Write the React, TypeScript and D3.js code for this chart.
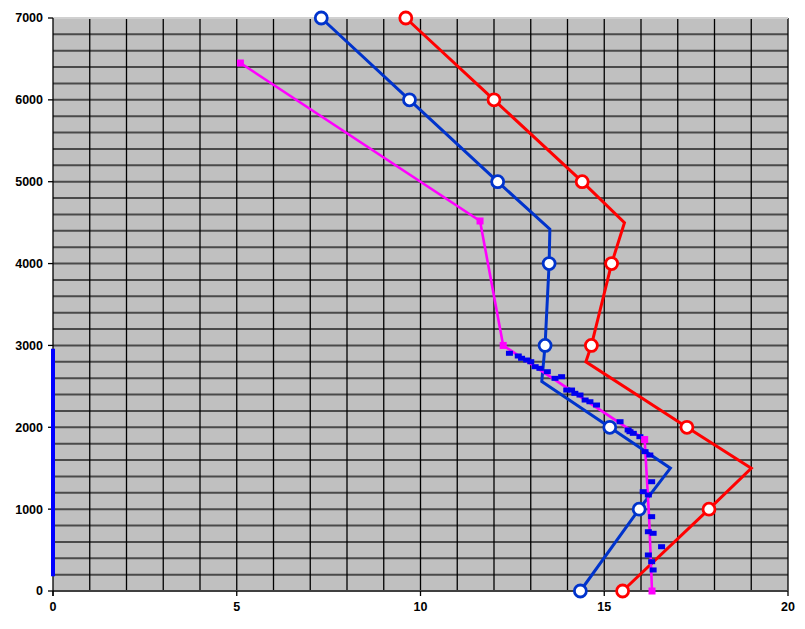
import React from "react";
import * as d3 from "d3";

const xTicks = [0, 5, 10, 15, 20];
const yTicks = [0, 1000, 2000, 3000, 4000, 5000, 6000, 7000];

const redX = [9.6, 12.0, 14.4, 15.55, 15.2, 14.65, 14.5, 17.25, 19.0, 17.85, 15.5];
const redY = [7000, 6000, 5000, 4500, 4000, 3000, 2800, 2000, 1500, 1000, 0];
const redM = [1, 1, 1, 0, 1, 1, 0, 1, 0, 1, 1];

const blueX = [7.3, 9.7, 12.1, 13.52, 13.5, 13.39, 13.3, 15.15, 16.8, 15.95, 14.35];
const blueY = [7000, 6000, 5000, 4420, 4000, 3000, 2560, 2000, 1500, 1000, 0];
const blueM = [1, 1, 1, 0, 1, 1, 0, 1, 0, 1, 1];

const magX = [5.1, 11.62, 12.25, 16.1, 16.22, 16.3];
const magY = [6450, 4520, 3000, 1850, 900, 0];

const scatX = [12.42, 12.66, 12.75, 12.89, 13.0, 13.12, 13.25, 13.45, 13.66, 13.84, 13.98, 14.11, 14.2, 14.34, 14.48, 14.61, 14.79, 15.43, 15.65, 15.79, 15.97, 15.7, 16.11, 16.24, 16.29, 16.06, 16.2, 16.29, 16.2, 16.33, 16.56, 16.2, 16.29, 16.33];
const scatY = [2904, 2871, 2843, 2822, 2801, 2740, 2720, 2679, 2598, 2618, 2455, 2455, 2415, 2394, 2333, 2312, 2272, 2068, 1967, 1926, 1885, 1946, 1702, 1661, 1335, 1213, 1173, 908, 724, 705, 541, 440, 358, 257];

const axisBarRange = [180, 2960];

const W = 805, H = 629;
const L = 53, R = 788, T = 18, B = 591;

export default function App() {
  const x = d3.scaleLinear().domain([0, 20]).range([L, R]);
  const y = d3.scaleLinear().domain([0, 7000]).range([B, T]);
  const line = d3.line<[number, number]>().x(d => x(d[0])).y(d => y(d[1]));
  const red = redX.map((v, i) => [v, redY[i]] as [number, number]);
  const blue = blueX.map((v, i) => [v, blueY[i]] as [number, number]);
  const mag = magX.map((v, i) => [v, magY[i]] as [number, number]);
  const hGrid = d3.range(200, 7000, 200);
  const vGrid = d3.range(1, 21, 1);
  const font = "'Liberation Sans', Arial, sans-serif";
  return (
    <svg width={W} height={H} style={{ position: "absolute", left: 0, top: 0, background: "#fff" }}>
      <rect x={L} y={T} width={R - L} height={B - T} fill="#c0c0c0" />
      {hGrid.map(v => (
        <line key={"h" + v} x1={L} x2={R} y1={y(v)} y2={y(v)} stroke="#4a4a4a" strokeWidth={2} />
      ))}
      {vGrid.map(v => (
        <line key={"v" + v} x1={x(v)} x2={x(v)} y1={T} y2={B} stroke="#000" strokeWidth={1.3} />
      ))}
      <line x1={L} x2={R} y1={T} y2={T} stroke="#d0d0d0" strokeWidth={2} />
      <line x1={L} x2={R} y1={B} y2={B} stroke="#404040" strokeWidth={2} />
      <line x1={L} x2={L} y1={T} y2={B + 5} stroke="#000" strokeWidth={1.3} />
      {yTicks.map(v => (
        <g key={"yt" + v}>
          <line x1={L - 5} x2={L} y1={y(v)} y2={y(v)} stroke="#000" strokeWidth={1.3} />
          <text x={L - 10} y={y(v)} dy="0.35em" textAnchor="end" fontFamily={font} fontWeight="bold" fontSize={12.5} fill="#000">{v}</text>
        </g>
      ))}
      {xTicks.map(v => (
        <g key={"xt" + v}>
          <line x1={x(v)} x2={x(v)} y1={B} y2={B + 5} stroke="#000" strokeWidth={1.3} />
          <text x={x(v)} y={B + 20} textAnchor="middle" fontFamily={font} fontWeight="bold" fontSize={12.5} fill="#000">{v}</text>
        </g>
      ))}
      <line x1={x(0)} x2={x(0)} y1={y(axisBarRange[0])} y2={y(axisBarRange[1])} stroke="#0000ff" strokeWidth={4} />
      <path d={line(red) || ""} fill="none" stroke="#ff0000" strokeWidth={3} />
      <path d={line(blue) || ""} fill="none" stroke="#0033cc" strokeWidth={3} />
      <path d={line(mag) || ""} fill="none" stroke="#ff00ff" strokeWidth={2.6} />
      {scatX.map((v, i) => (
        <rect key={"s" + i} x={x(v) - 3.5} y={y(scatY[i]) - 2.5} width={7} height={5} fill="#0000ee" />
      ))}
      {mag.map((d, i) => (i === 4 ? null :
        <rect key={"m" + i} x={x(d[0]) - 3.5} y={y(d[1]) - 3.5} width={7} height={7} fill="#ff00ff" />
      ))}
      {red.map((d, i) => redM[i] ? (
        <circle key={"rc" + i} cx={x(d[0])} cy={y(d[1])} r={6} fill="#fff" stroke="#ff0000" strokeWidth={2.8} />
      ) : null)}
      {blue.map((d, i) => blueM[i] ? (
        <circle key={"bc" + i} cx={x(d[0])} cy={y(d[1])} r={6} fill="#fff" stroke="#0033cc" strokeWidth={2.8} />
      ) : null)}
    </svg>
  );
}
